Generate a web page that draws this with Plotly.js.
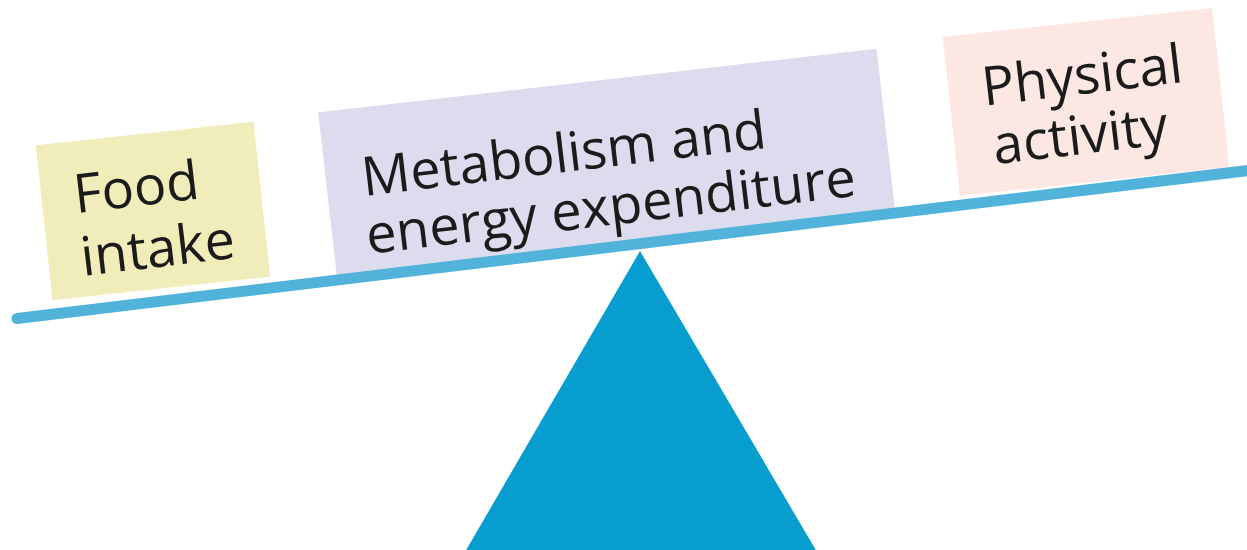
<!DOCTYPE html>
<html>
<head>
<meta charset="utf-8">
<script src="https://cdn.plot.ly/plotly-3.0.1.min.js"></script>
<style>html,body{margin:0;padding:0;background:#fff;}#chart{width:1247px;height:550px;}</style>
</head>
<body>
<div id="chart"></div>
<script>
// ---- content ----
const boxNames = ["Food intake", "Metabolism and energy expenditure", "Physical activity"];
const boxLines = [["Food", "intake"], ["Metabolism and", "energy expenditure"], ["Physical", "activity"]];

// ---- layout / style (pixel-like data coordinates, y downward) ----
const boxGeom = [
  {cx: 153, cy: 211, w: 219, h: 156, ang: 6.2, fill: "#f1edbb"},
  {cx: 607, cy: 165, w: 562, h: 170, ang: 6.5, fill: "#dcdcee"},
  {cx: 1086, cy: 102, w: 271, h: 160, ang: 6.15, fill: "#fce7e3"}
];
const textGeom = [
  [{x: 136, y: 185}, {x: 157, y: 246}],
  [{x: 563, y: 151}, {x: 610, y: 204}],
  [{x: 1082, y: 73}, {x: 1080, y: 133}]
];
const textAngles = [6.8, 6.8, 6.8];
const beam = {x0: 17, y0: 318.5, x1: 1265, y1: 168.5, width: 11, color: "#52b3da"};
const pivot = {apexX: 640, apexY: 251, baseL: 465, baseR: 817, baseY: 552, color: "#079dcf"};

function rot(dx, dy, deg) {
  const a = deg * Math.PI / 180, c = Math.cos(a), s = Math.sin(a);
  return [dx * c + dy * s, -dx * s + dy * c];
}
function rectPath(g) {
  const pts = [[-g.w/2, -g.h/2], [g.w/2, -g.h/2], [g.w/2, g.h/2], [-g.w/2, g.h/2]]
    .map(p => { const r = rot(p[0], p[1], g.ang); return [g.cx + r[0], g.cy + r[1]]; });
  return "M" + pts.map(p => p[0].toFixed(2) + "," + p[1].toFixed(2)).join(" L") + " Z";
}

const shapes = [];
boxNames.forEach((n, i) => {
  shapes.push({type: "path", xref: "x", yref: "y", path: rectPath(boxGeom[i]),
    fillcolor: boxGeom[i].fill, line: {width: 0}, layer: "below"});
});
shapes.push({type: "line", xref: "x", yref: "y", x0: beam.x0, y0: beam.y0, x1: beam.x1, y1: beam.y1,
  line: {color: beam.color, width: beam.width}});
shapes.push({type: "circle", xref: "x", yref: "y",
  x0: beam.x0 - beam.width/2, x1: beam.x0 + beam.width/2,
  y0: beam.y0 - beam.width/2, y1: beam.y0 + beam.width/2,
  fillcolor: beam.color, line: {width: 0}});
shapes.push({type: "path", xref: "x", yref: "y",
  path: `M${pivot.apexX},${pivot.apexY} L${pivot.baseR},${pivot.baseY} L${pivot.baseL},${pivot.baseY} Z`,
  fillcolor: pivot.color, line: {width: 0}});

const annotations = [];
boxLines.forEach((lines, i) => {
  lines.forEach((t, j) => {
    annotations.push({text: t, x: textGeom[i][j].x, y: textGeom[i][j].y, xref: "x", yref: "y",
      showarrow: false, xanchor: "center", yanchor: "middle", textangle: -textAngles[i],
      font: {family: "Open Sans, Noto Sans, sans-serif", size: 54, color: "#1b1b1b"}});
  });
});

const layout = {
  width: 1247, height: 550,
  margin: {l: 0, r: 0, t: 0, b: 0},
  paper_bgcolor: "#ffffff", plot_bgcolor: "#ffffff",
  xaxis: {range: [0, 1247], visible: false, fixedrange: true},
  yaxis: {range: [550, 0], visible: false, fixedrange: true},
  shapes: shapes, annotations: annotations, showlegend: false
};
Plotly.newPlot("chart", [{x: [], y: [], type: "scatter", mode: "markers", hoverinfo: "skip"}], layout,
  {displayModeBar: false, staticPlot: true});
</script>
</body>
</html>
